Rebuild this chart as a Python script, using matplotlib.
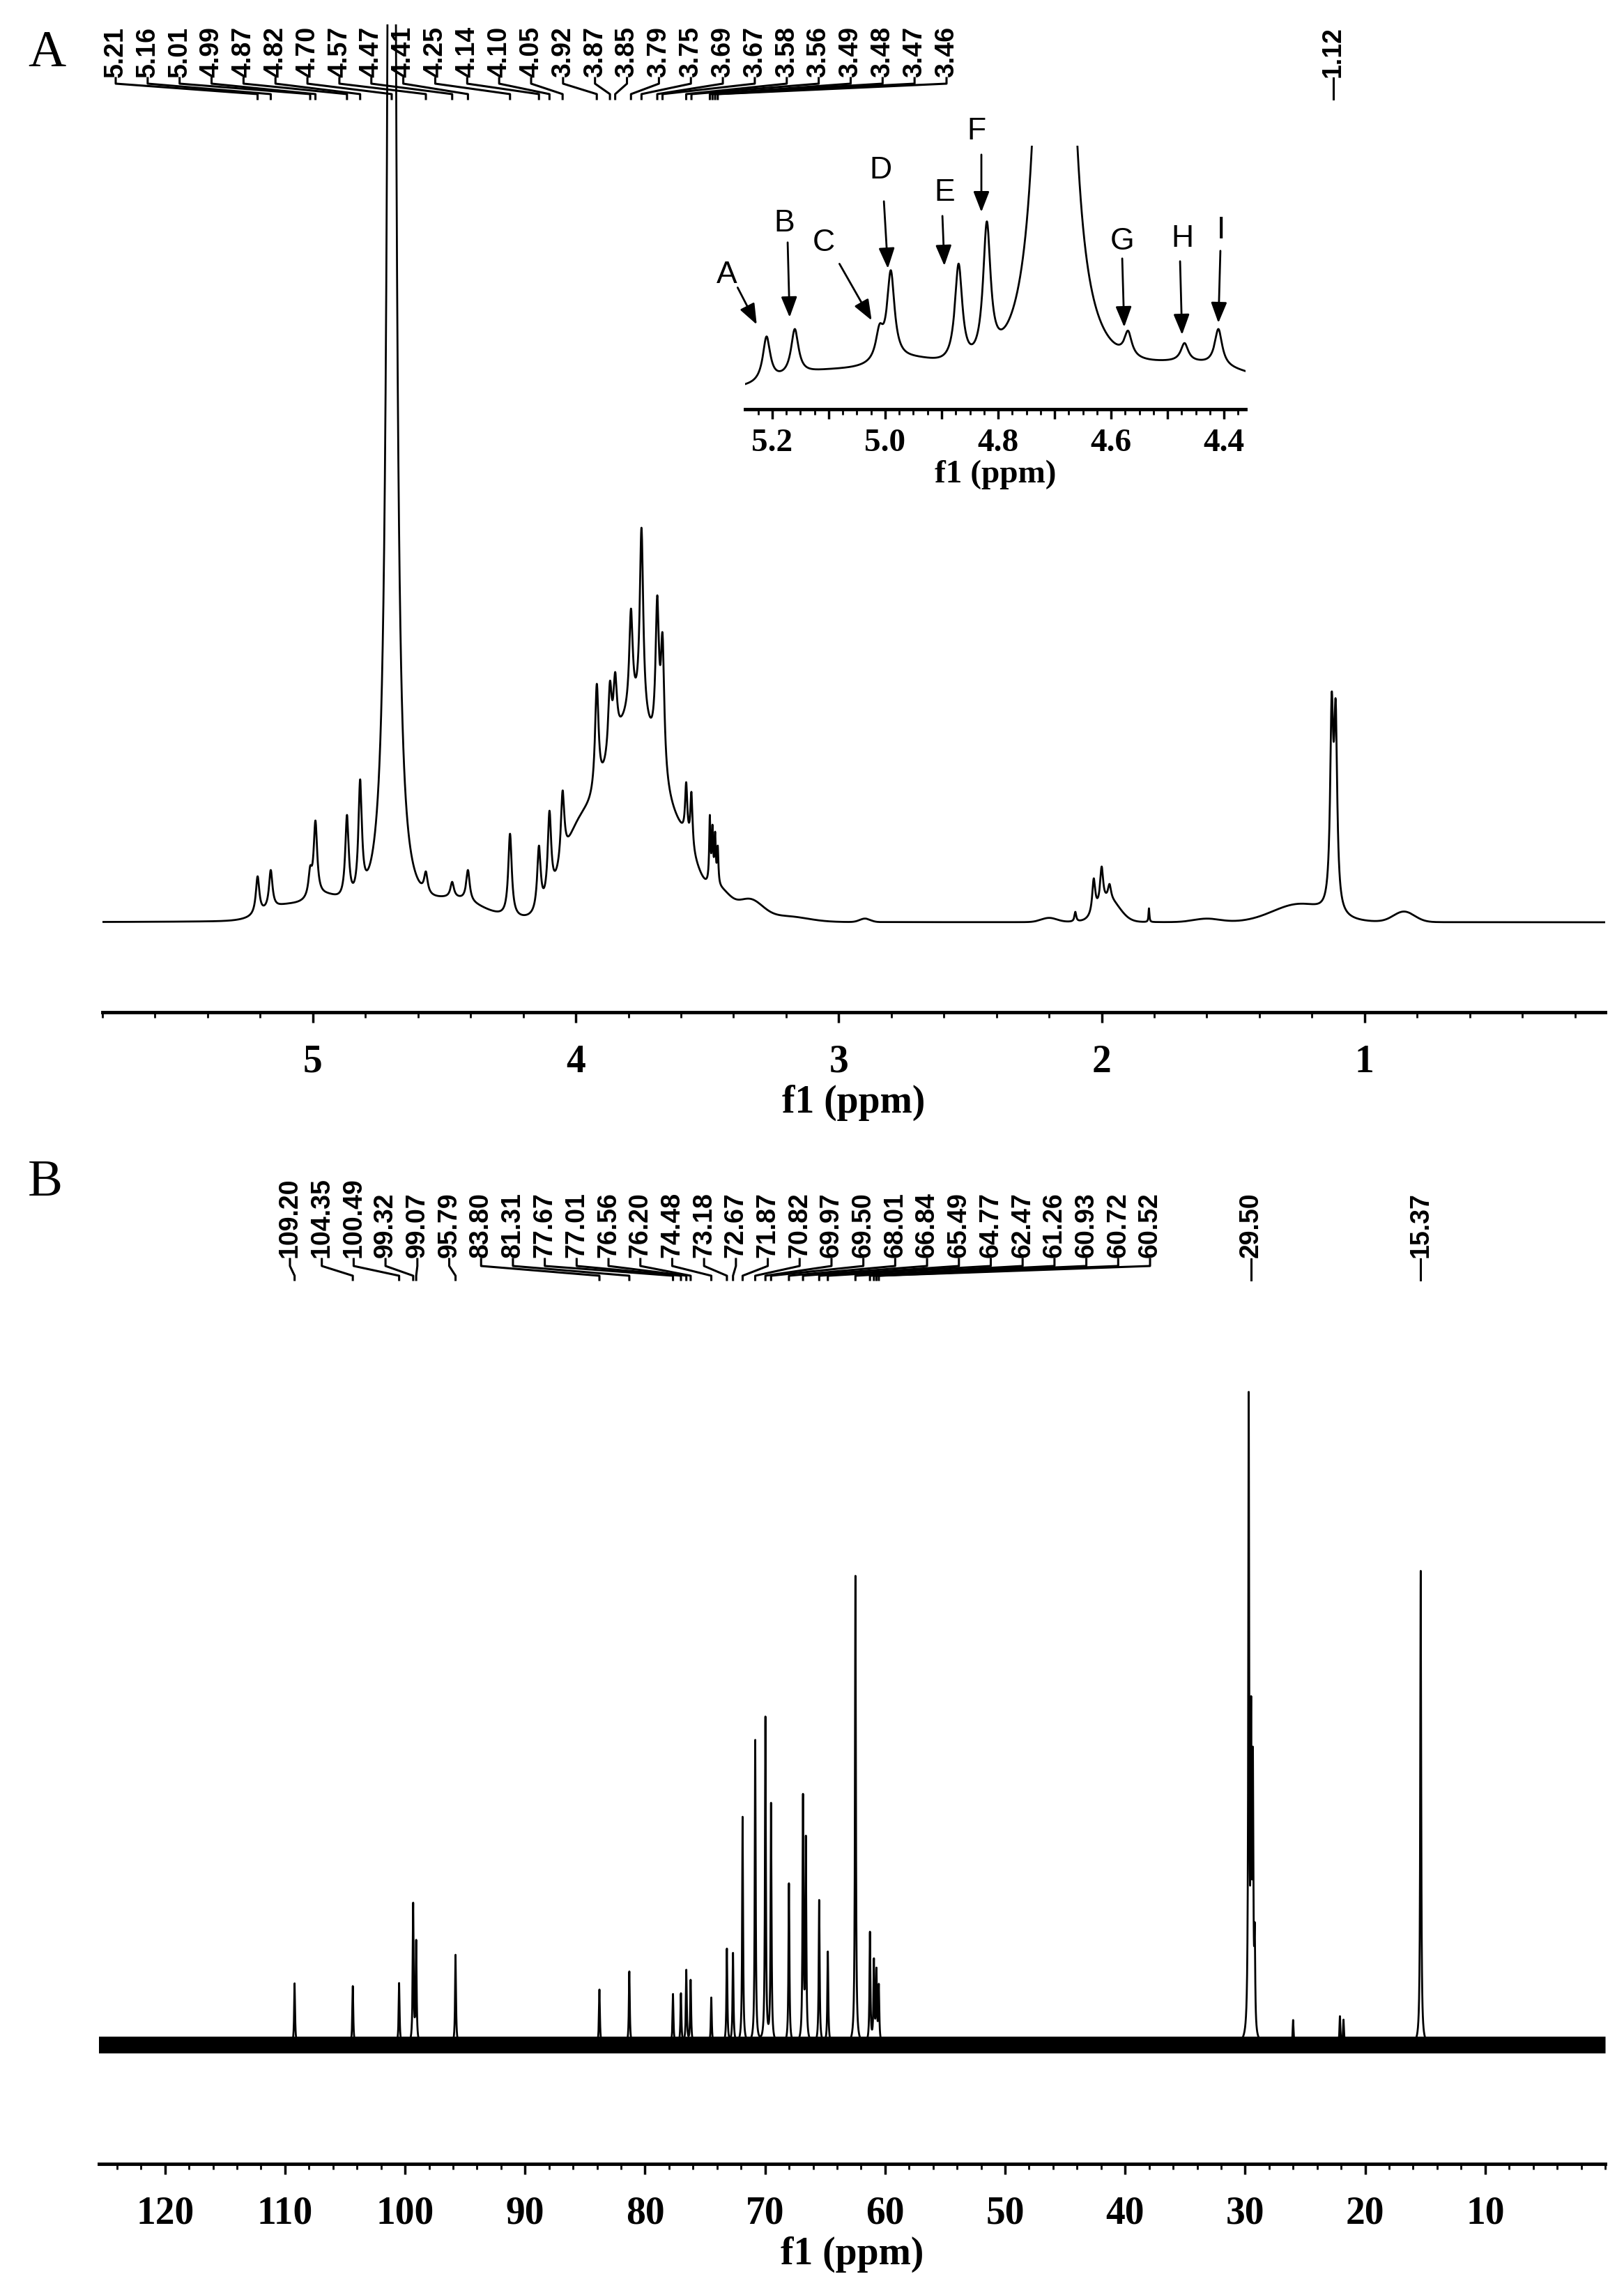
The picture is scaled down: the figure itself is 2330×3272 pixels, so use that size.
import numpy as np
import matplotlib
matplotlib.use("Agg")
import matplotlib.pyplot as plt
from matplotlib.lines import Line2D
from matplotlib.transforms import IdentityTransform
from matplotlib.ticker import MultipleLocator, FixedLocator

W, H = 2330, 3272
# ---------------- data: 1H ----------------
h_pos = [5.21, 5.16, 5.01, 4.99, 4.87, 4.82, 4.57, 4.47, 4.41, 4.25, 4.14, 4.10, 4.05,
         3.92, 3.87, 3.85, 3.79, 3.75, 3.69, 3.67, 3.58, 3.56, 3.49, 3.48, 3.47, 3.46,
         2.10, 2.03, 2.00, 1.97, 1.82, 1.125, 1.11]
h_hgt = [66, 75, 81, 146, 154, 205, 73, 58, 75, 127, 110, 160, 189,
         342, 346, 359, 450, 566, 469, 415, 201, 187, 154, 140, 130, 110,
         15, 63, 80, 55, 20, 330, 320]
h_wid = [0.008]*20 + [0.005]*2 + [0.003]*4 + [0.004, 0.007, 0.007, 0.007, 0.002, 0.007, 0.007]
h_broad_c = [3.78, 4.00, 3.57, 3.45, 3.34, 3.20, 4.45, 5.10, 4.95, 1.97, 1.25, 0.85, 1.60, 2.90, 2.20]
h_broad_s = [0.12, 0.06, 0.05, 0.04, 0.05, 0.08, 0.10, 0.08, 0.06, 0.04, 0.10, 0.04, 0.05, 0.02, 0.03]
h_broad_h = [290, 80, 45, 35, 30, 8, 25, 20, 25, 30, 25, 15, 5, 5, 6]
hod_pos, hod_amp, hod_wid = 4.70, 3600, 0.012
h_labels = ["5.21", "5.16", "5.01", "4.99", "4.87", "4.82", "4.70", "4.57", "4.47", "4.41",
            "4.25", "4.14", "4.10", "4.05", "3.92", "3.87", "3.85", "3.79", "3.75", "3.69",
            "3.67", "3.58", "3.56", "3.49", "3.48", "3.47", "3.46"]
h_single = ["1.12"]
inset_letters = ["A", "B", "C", "D", "E", "F", "G", "H", "I"]
# ---------------- data: 13C ----------------
c_pos = [109.20, 104.35, 100.49, 99.32, 99.07, 95.79, 83.80, 81.31, 77.67, 77.01, 76.56, 76.20,
         74.48, 73.18, 72.67, 71.87, 70.82, 69.97, 69.50, 68.01, 66.84, 66.60, 65.49, 64.77,
         62.47, 61.26, 60.93, 60.72, 60.52, 29.70, 29.50, 29.35, 29.20, 15.37, 26.0, 22.1, 21.8]
c_hgt = [88, 84, 88, 199, 144, 129, 79, 105, 72, 72, 105, 91,
         67, 136, 129, 325, 435, 466, 342, 230, 349, 287, 206, 132,
         672, 158, 115, 100, 80, 910, 423, 367, 128, 680, 35, 40, 35]
c_labels = ["109.20", "104.35", "100.49", "99.32", "99.07", "95.79", "83.80", "81.31", "77.67",
            "77.01", "76.56", "76.20", "74.48", "73.18", "72.67", "71.87", "70.82", "69.97",
            "69.50", "68.01", "66.84", "65.49", "64.77", "62.47", "61.26", "60.93", "60.72", "60.52"]
c_single = ["29.50", "15.37"]

serif = "Liberation Serif"
sans = "Liberation Sans"

def lor(x, c, w):
    return w**2 / ((x - c)**2 + w**2)

xh = np.linspace(0.0, 6.0, 24001)
env = lambda x: sum(hh*np.exp(-0.5*((x-c)/s)**2) for c, s, hh in zip(h_broad_c, h_broad_s, h_broad_h)) \
    + hod_amp*lor(x, hod_pos, hod_wid)
P = np.array(h_pos); T = np.array(h_hgt, float); Wd = np.array(h_wid)
M = lor(P[:, None], P[None, :], Wd[None, :])
amp = np.linalg.solve(M, T - env(P))
amp = np.clip(amp, 3, None)
yh = env(xh) + sum(a*lor(xh, c, w) for a, c, w in zip(amp, P, Wd))

xc = np.linspace(0.0, 126, 40001)
yc = sum(hh*lor(xc, c, 0.045) for c, hh in zip(c_pos, c_hgt))

fig = plt.figure(figsize=(W/100, H/100), dpi=100)

def ax_at(x0, y0, x1, y1):
    return fig.add_axes([x0/W, 1 - y1/H, (x1-x0)/W, (y1-y0)/H])

def style(ax, outward_px, fs):
    for s in ["top", "left", "right"]:
        ax.spines[s].set_visible(False)
    ax.spines["bottom"].set_position(("outward", outward_px*0.72))
    ax.spines["bottom"].set_linewidth(3.5)
    ax.set_yticks([])
    ax.tick_params(axis="x", which="major", direction="out", length=11, width=2.5, pad=22)
    ax.tick_params(axis="x", which="minor", direction="out", length=6, width=2)
    for t in ax.get_xticklabels():
        t.set_fontfamily(serif); t.set_fontweight("bold"); t.set_fontsize(fs)

def fan(ax, labels, lab_x, peak_ppm, ytxt, y1, y2, y3, y4, fs):
    for lab, lx, p in zip(labels, lab_x, peak_ppm):
        px = ax.transData.transform((p, 0))[0]
        xs = [lx, lx, px, px]
        ys = [H - y1, H - y2, H - y3, H - y4]
        fig.add_artist(Line2D(xs, ys, transform=IdentityTransform(), color="black", lw=2.2))
        fig.text(lx/W, 1 - ytxt/H, lab, rotation=90, ha="center", va="bottom",
                 fontsize=fs, fontweight="bold", fontfamily=sans)

# ---------- Panel A ----------
axA = ax_at(147, 35, 2303, 1400)
axA.plot(xh, yh, color="black", lw=2.0)
axA.set_xlim(5.80, 0.085)
axA.set_ylim(-77, 1288)
axA.xaxis.set_major_locator(MultipleLocator(1))
axA.xaxis.set_minor_locator(MultipleLocator(0.2))
style(axA, 52, 40)
axA.set_xlabel("f1 (ppm)", fontfamily=serif, fontweight="bold", fontsize=40, labelpad=4)
fig.text(40/W, 1 - 95/H, "A", fontfamily=serif, fontsize=54)

h_peak_ppm = [float(s) for s in h_labels]
fan(axA, h_labels, np.linspace(166, 1358, len(h_labels)), h_peak_ppm, 111, 112, 120, 135, 142, 27)
fan(axA, h_single, [axA.transData.transform((1.12, 0))[0]], [1.12], 111, 112, 120, 135, 142, 27)

# inset
axI = ax_at(1069, 209, 1787, 575)
axI.plot(xh, yh, color="black", lw=2.0)
axI.set_xlim(5.248, 4.362)
axI.set_ylim(-11.8, 296.5)
axI.xaxis.set_minor_locator(MultipleLocator(0.025))
axI.set_xticks([5.2, 5.1, 5.0, 4.9, 4.8, 4.7, 4.6, 4.5, 4.4])
axI.set_xticklabels(["5.2", "", "5.0", "", "4.8", "", "4.6", "", "4.4"])
style(axI, 12, 34)
axI.tick_params(axis="x", which="major", length=10, pad=10)
axI.set_xlabel("f1 (ppm)", fontfamily=serif, fontweight="bold", fontsize=34, labelpad=2)
arrows = {"A": ((1043, 395), (1057, 410), (1087, 468)),
          "B": ((1125, 320), (1130, 345), (1133, 458)),
          "C": ((1182, 349), (1203, 376), (1252, 462)),
          "D": ((1263, 244), (1268, 286), (1274, 388)),
          "E": ((1355, 276), (1352, 307), (1355, 384)),
          "F": ((1401, 188), (1408, 219), (1408, 307)),
          "G": ((1610, 347), (1610, 368), (1613, 472)),
          "H": ((1696, 342), (1693, 372), (1696, 483)),
          "I": ((1752, 330), (1751, 357), (1748, 466))}
for L in inset_letters:
    (tx, ty), (ax0, ay0), (hx, hy) = arrows[L]
    fig.text(tx/W, 1 - ty/H, L, ha="center", va="center", fontsize=32, fontfamily=sans)
    fig.add_artist(matplotlib.patches.FancyArrowPatch((ax0, H - ay0), (hx, H - hy),
                   transform=IdentityTransform(), arrowstyle="-|>,head_length=18,head_width=7",
                   color="black", lw=2, mutation_scale=1))

# ---------- Panel B ----------
axB = ax_at(142, 1840, 2303, 3000)
axB.fill_between(xc, -12, 12, color="black", lw=0)
axB.plot(xc, yc, color="black", lw=2.0)
axB.set_xlim(125.5, 0)
axB.set_ylim(-67, 1093)
axB.xaxis.set_major_locator(FixedLocator(np.arange(10, 121, 10)))
axB.xaxis.set_minor_locator(MultipleLocator(2))
style(axB, 104, 40)
axB.set_xlabel("f1 (ppm)", fontfamily=serif, fontweight="bold", fontsize=40, labelpad=4)
fig.text(40/W, 1 - 1715/H, "B", fontfamily=serif, fontsize=54)

c_peak_ppm = [float(s) for s in c_labels]
c_lab_x = np.linspace(416, 1650, len(c_labels))
fan(axB, c_labels, c_lab_x, c_peak_ppm, 1804, 1806, 1816, 1830, 1836, 27)
fan(axB, c_single, [axB.transData.transform((float(s), 0))[0] for s in c_single],
    [float(s) for s in c_single], 1804, 1806, 1816, 1830, 1836, 27)

fig.savefig("out.png", dpi=100)
